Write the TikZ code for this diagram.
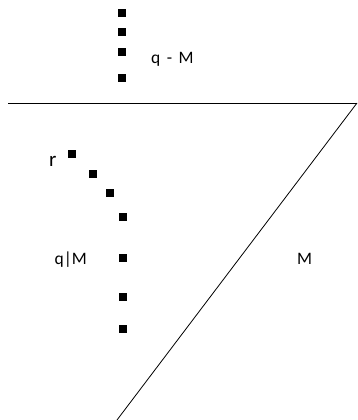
\documentclass[tikz,border=0pt]{standalone}
\usepackage{fontspec}
\setmainfont{Carlito}
\begin{document}
\begin{tikzpicture}[x=1pt,y=-1pt,
  dot/.style={fill=black,draw=none,minimum size=8pt,inner sep=0pt,outer sep=0pt},
  lbl/.style={font=\fontsize{17.5}{20}\selectfont,text=black,inner sep=0pt,anchor=base west},
  edge/.style={draw=black,line width=0.9pt}]
\useasboundingbox[fill=white] (0,0) rectangle (358,420);
% top column of dots
\node[dot] (t1) at (122,13) {};
\node[dot] (t2) at (122,32) {};
\node[dot] (t3) at (122,52) {};
\node[dot] (t4) at (122,78) {};
\node[lbl] (qm) at (151,63.3) {q\hspace{6.5pt}-\hspace{6.5pt}M};
% line and diagonal
\coordinate (L) at (8,103);
\coordinate (R) at (357,103);
\coordinate (B) at (117,420);
\draw[edge,line width=1pt] (L) -- (R);
\draw[edge,line width=0.8pt] (R) -- (B);
% curved path of dots
\node[dot] (d1) at (72,154) {};
\node[dot] (d2) at (93,174) {};
\node[dot] (d3) at (110,193) {};
\node[dot] (d4) at (123,217) {};
\node[dot] (d5) at (123,258) {};
\node[dot] (d6) at (123,297) {};
\node[dot] (d7) at (123,329) {};
\node[lbl,font=\fontsize{21}{24}\selectfont] (r) at (49,166.5) {r};
\node[lbl] (qbm) at (54.5,264) {q|M};
\node[lbl] (m) at (297,264) {M};
\end{tikzpicture}
\end{document}
